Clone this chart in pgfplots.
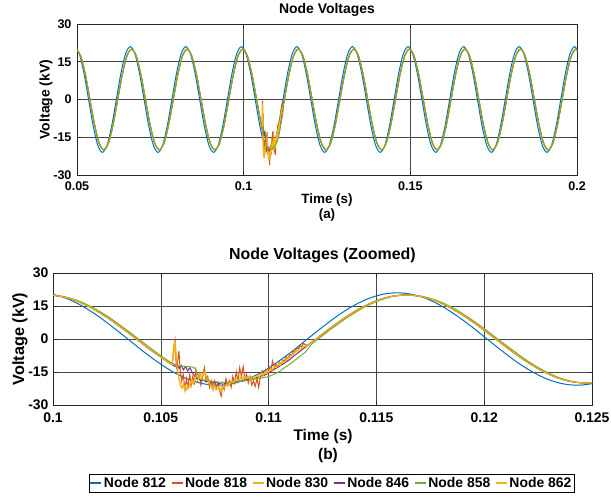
\documentclass[border=0pt]{standalone}
\usepackage{pgfplots}
\pgfplotsset{compat=1.18}
\usepackage{pgfplotstable}
\usepackage{fontspec}
\setmainfont{Liberation Sans}
\definecolor{c812}{RGB}{0,114,189}
\definecolor{c818}{RGB}{217,83,25}
\definecolor{c830}{RGB}{237,177,32}
\definecolor{c846}{RGB}{126,47,142}
\definecolor{c858}{RGB}{119,172,48}
\definecolor{c862}{RGB}{245,180,20}

% Node 812, coarse
\pgfplotstableread{
t v
0.0493 21
0.05069 18.19
0.05208 10.5
0.05347 0
0.05486 -10.5
0.05624 -18.19
0.05763 -21
0.05902 -18.19
0.06041 -10.5
0.0618 0
0.06319 10.5
0.06458 18.19
0.06597 21
0.06736 18.19
0.06874 10.5
0.07013 0
0.07152 -10.5
0.07291 -18.19
0.0743 -21
0.07569 -18.19
0.07708 -10.5
0.07847 0
0.07986 10.5
0.08124 18.19
0.08263 21
0.08402 18.19
0.08541 10.5
0.0868 0
0.08819 -10.5
0.08958 -18.19
0.09097 -21
0.09236 -18.19
0.09374 -10.5
0.09513 0
0.09652 10.5
0.09791 18.19
0.0993 21
0.10069 18.19
0.10208 10.5
0.10347 0
0.10486 -10.5
0.10624 -18.19
0.10763 -21
0.10902 -18.19
0.11041 -10.5
0.1118 0
0.11319 10.5
0.11458 18.19
0.11597 21
0.11736 18.19
0.11874 10.5
0.12013 0
0.12152 -10.5
0.12291 -18.19
0.1243 -21
0.12569 -18.19
0.12708 -10.5
0.12847 0
0.12986 10.5
0.13124 18.19
0.13263 21
0.13402 18.19
0.13541 10.5
0.1368 0
0.13819 -10.5
0.13958 -18.19
0.14097 -21
0.14236 -18.19
0.14374 -10.5
0.14513 0
0.14652 10.5
0.14791 18.19
0.1493 21
0.15069 18.19
0.15208 10.5
0.15347 0
0.15486 -10.5
0.15624 -18.19
0.15763 -21
0.15902 -18.19
0.16041 -10.5
0.1618 0
0.16319 10.5
0.16458 18.19
0.16597 21
0.16736 18.19
0.16874 10.5
0.17013 0
0.17152 -10.5
0.17291 -18.19
0.1743 -21
0.17569 -18.19
0.17708 -10.5
0.17847 0
0.17986 10.5
0.18124 18.19
0.18263 21
0.18402 18.19
0.18541 10.5
0.1868 0
0.18819 -10.5
0.18958 -18.19
0.19097 -21
0.19236 -18.19
0.19374 -10.5
0.19513 0
0.19652 10.5
0.19791 18.19
0.1993 21
0.20069 18.19
}\blueA

% Node 812, fine
\pgfplotstableread{
t v
0.0993 21
0.09999 20.28
0.10069 18.19
0.10138 14.85
0.10208 10.5
0.10277 5.44
0.10347 0
0.10416 -5.44
0.10486 -10.5
0.10555 -14.85
0.10624 -18.19
0.10694 -20.28
0.10763 -21
0.10833 -20.28
0.10902 -18.19
0.10972 -14.85
0.11041 -10.5
0.11111 -5.44
0.1118 0
0.1125 5.44
0.11319 10.5
0.11388 14.85
0.11458 18.19
0.11527 20.28
0.11597 21
0.11666 20.28
0.11736 18.19
0.11805 14.85
0.11874 10.5
0.11944 5.44
0.12013 0
0.12083 -5.44
0.12152 -10.5
0.12222 -14.85
0.12291 -18.19
0.12361 -20.28
0.1243 -21
0.125 -20.28
0.12569 -18.19
}\blueB

% other nodes, coarse, before fault
\pgfplotstableread{
t v
0.0497 20
0.05109 17.32
0.05248 10
0.05387 0
0.05526 -10
0.05664 -17.32
0.05803 -20
0.05942 -17.32
0.06081 -10
0.0622 0
0.06359 10
0.06498 17.32
0.06637 20
0.06776 17.32
0.06914 10
0.07053 0
0.07192 -10
0.07331 -17.32
0.0747 -20
0.07609 -17.32
0.07748 -10
0.07887 0
0.08026 10
0.08164 17.32
0.08303 20
0.08442 17.32
0.08581 10
0.0872 0
0.08859 -10
0.08998 -17.32
0.09137 -20
0.09276 -17.32
0.09414 -10
0.09553 0
0.09692 10
0.09831 17.32
0.0997 20
0.10109 17.32
0.10248 10
0.10387 0
0.10526 -10
0.10553 -11.73
}\othA

% other nodes, coarse, after fault
\pgfplotstableread{
t v
0.1118 -2.99
0.1122 0
0.11359 10
0.11498 17.32
0.11637 20
0.11776 17.32
0.11914 10
0.12053 0
0.12192 -10
0.12331 -17.32
0.1247 -20
0.12609 -17.32
0.12748 -10
0.12887 0
0.13026 10
0.13164 17.32
0.13303 20
0.13442 17.32
0.13581 10
0.1372 0
0.13859 -10
0.13998 -17.32
0.14137 -20
0.14276 -17.32
0.14414 -10
0.14553 0
0.14692 10
0.14831 17.32
0.1497 20
0.15109 17.32
0.15248 10
0.15387 0
0.15526 -10
0.15664 -17.32
0.15803 -20
0.15942 -17.32
0.16081 -10
0.1622 0
0.16359 10
0.16498 17.32
0.16637 20
0.16776 17.32
0.16914 10
0.17053 0
0.17192 -10
0.17331 -17.32
0.1747 -20
0.17609 -17.32
0.17748 -10
0.17887 0
0.18026 10
0.18164 17.32
0.18303 20
0.18442 17.32
0.18581 10
0.1872 0
0.18859 -10
0.18998 -17.32
0.19137 -20
0.19276 -17.32
0.19414 -10
0.19553 0
0.19692 10
0.19831 17.32
0.1997 20
0.20109 17.32
}\othC

% other nodes, fine
\pgfplotstableread{
t v
0.09901 19.32
0.0997 20
0.10039 19.32
0.10109 17.32
0.10178 14.14
0.10248 10
0.10317 5.18
0.10387 0
0.10456 -5.18
0.10526 -10
0.10553 -11.73
}\othB
\pgfplotstableread{
t v
0.1118 -2.99
0.1122 0
0.11289 5.18
0.11359 10
0.11428 14.14
0.11498 17.32
0.11567 19.32
0.11637 20
0.11706 19.32
0.11776 17.32
0.11845 14.14
0.11914 10
0.11984 5.18
0.12053 0
0.12123 -5.18
0.12192 -10
0.12262 -14.14
0.12331 -17.32
0.12401 -19.32
0.1247 -20
0.12539 -19.32
0.12609 -17.32
}\othD

% node 858, fine
\pgfplotstableread{
t v
0.09911 19.32
0.0998 20
0.10049 19.32
0.10119 17.32
0.10188 14.14
0.10258 10
0.10327 5.18
0.10397 0
0.10466 -5.18
0.10536 -10
0.10556 -11
}\grnB
\pgfplotstableread{
t v
0.112 -2.26
0.1123 0
0.11299 5.18
0.11369 10
0.11438 14.14
0.11508 17.32
0.11577 19.32
0.11647 20
0.11716 19.32
0.11786 17.32
0.11855 14.14
0.11924 10
0.11994 5.18
0.12063 0
0.12133 -5.18
0.12202 -10
0.12272 -14.14
0.12341 -17.32
0.12411 -19.32
0.1248 -20
0.12549 -19.32
0.12619 -17.32
}\grnD

% fault transients
\pgfplotstableread{
t v
0.10553 -11.7
0.10560 -4
0.10566 -0.5
0.10572 -13
0.10578 -10
0.10584 -5.5
0.10590 -14
0.10597 -19
0.10604 -16
0.10612 -23
0.10619 -18
0.10626 -22
0.10634 -16
0.10641 -21
0.10648 -17
0.10656 -20
0.10663 -14
0.10670 -19
0.10678 -16
0.10686 -21
0.10694 -17
0.10702 -13
0.10710 -19
0.10718 -17
0.10726 -22
0.10734 -19
0.10742 -23
0.10750 -19
0.10758 -22
0.10766 -20
0.10774 -24
0.10780 -26
0.10786 -21
0.10794 -23
0.10802 -18
0.10810 -21
0.10818 -19
0.10826 -22
0.10834 -17
0.10842 -20
0.10850 -15
0.10858 -19
0.10866 -13
0.10874 -17
0.10882 -12.5
0.10890 -18
0.10898 -16
0.10906 -20
0.10914 -17
0.10922 -21
0.10930 -19
0.10938 -21.5
0.10946 -18
0.10954 -22
0.10962 -17
0.10970 -14.5
0.10978 -16.5
0.10986 -14
0.10994 -15.5
0.11002 -13
0.11010 -15
0.11018 -10
0.11026 -13
0.11034 -11.5
0.11042 -12.5
0.11050 -10.5
0.11058 -11.5
0.11066 -9.5
0.11074 -10
0.11082 -8
0.11090 -9
0.11098 -7
0.11106 -7.5
0.11114 -5.5
0.11122 -6
0.11130 -4
0.11138 -4.5
0.11146 -3
0.11154 -3.5
0.11162 -2
0.11170 -2.5
0.11180 -2.99
}\fA
\pgfplotstableread{
t v
0.10553 -11.7
0.10560 -3
0.10565 -1.5
0.10572 -9
0.10580 -16
0.10590 -21
0.10600 -22.5
0.10610 -21
0.10620 -23
0.10630 -22
0.10640 -19
0.10650 -20.5
0.10660 -17
0.10670 -18.5
0.10680 -16
0.10690 -17.5
0.10700 -15
0.10710 -17
0.10720 -19.5
0.10730 -21
0.10740 -22.5
0.10750 -21.5
0.10760 -23
0.10770 -22
0.10780 -24
0.10790 -22
0.10800 -21.5
0.10810 -20
0.10820 -20.5
0.10830 -19
0.10840 -19.5
0.10850 -18
0.10860 -18.5
0.10870 -17.5
0.10880 -18.5
0.10890 -17
0.10900 -18
0.10910 -17.5
0.10920 -18.5
0.10930 -17
0.10940 -18
0.10950 -16.5
0.10960 -17
0.10970 -15.5
0.10980 -16
0.10990 -14.5
0.11000 -15
0.11010 -13.5
0.11020 -14
0.11030 -12.5
0.11040 -12.5
0.11050 -11
0.11060 -11.5
0.11070 -10
0.11080 -10
0.11090 -8.5
0.11100 -8.5
0.11110 -7
0.11120 -6.5
0.11130 -5
0.11140 -5
0.11150 -4
0.11160 -3.8
0.11170 -3
0.11180 -2.99
}\fB
\pgfplotstableread{
t v
0.10553 -11.7
0.10565 -12.5
0.10575 -11
0.10585 -13.5
0.10595 -12
0.10605 -14
0.10615 -12.5
0.10625 -14.5
0.10635 -13
0.10645 -15
0.10655 -16.5
0.10665 -18
0.10675 -17.5
0.10685 -19
0.10695 -18.5
0.10710 -19.5
0.10725 -19
0.10740 -20
0.10755 -19.5
0.10770 -20.5
0.10785 -19.8
0.10800 -20.2
0.10820 -19.5
0.10840 -19.8
0.10860 -19
0.10880 -19.2
0.10900 -18.5
0.10920 -18.2
0.10940 -17.8
0.10960 -17
0.10980 -16.5
0.11000 -15.5
0.11020 -14.2
0.11040 -13
0.11060 -11.8
0.11080 -10.5
0.11100 -9.2
0.11120 -7.5
0.11140 -6
0.11160 -4.5
0.11180 -2.99
}\fC
\pgfplotstableread{
t v
0.10556 -11
0.10570 -12
0.10590 -12.3
0.10610 -12.5
0.10630 -12.6
0.10650 -12.8
0.10660 -13.5
0.10670 -16
0.10680 -18
0.10690 -18.6
0.10710 -18.8
0.10730 -19.2
0.10750 -19.4
0.10770 -19.6
0.10790 -19.7
0.10810 -19.8
0.10830 -19.7
0.10850 -19.5
0.10870 -19.2
0.10890 -19
0.10910 -18.7
0.10930 -18.3
0.10950 -18
0.10970 -17.7
0.10990 -17.3
0.11010 -16.7
0.11030 -15.8
0.11050 -14.8
0.11070 -13.3
0.11090 -12
0.11110 -10.6
0.11130 -9
0.11150 -7.5
0.11170 -6
0.11185 -4.2
0.11200 -2.26
}\fD
\pgfplotstableread{
t v
0.10553 -11.7
0.10562 -6
0.10568 -2.5
0.10575 -12
0.10585 -18
0.10595 -22
0.10605 -20.5
0.10615 -23.5
0.10625 -21
0.10635 -22
0.10645 -18.5
0.10655 -19.5
0.10665 -16.5
0.10675 -18
0.10685 -15.5
0.10695 -17
0.10705 -14.8
0.10715 -18
0.10725 -20
0.10735 -22
0.10745 -21
0.10755 -23
0.10765 -22.5
0.10775 -23.5
0.10785 -21.5
0.10795 -22
0.10805 -20.5
0.10815 -21
0.10825 -19.5
0.10835 -20
0.10845 -18.5
0.10855 -19
0.10865 -18
0.10875 -18.5
0.10885 -17
0.10895 -18
0.10905 -17
0.10915 -18.5
0.10925 -17.5
0.10935 -18
0.10945 -16.5
0.10955 -17.5
0.10965 -16
0.10975 -16.5
0.10985 -15
0.10995 -15.5
0.11005 -14
0.11015 -14.5
0.11025 -12.5
0.11035 -13
0.11045 -11.5
0.11055 -12
0.11065 -10
0.11075 -10.5
0.11085 -9
0.11095 -8.5
0.11105 -7.5
0.11115 -7
0.11125 -5.5
0.11135 -5.5
0.11145 -4.5
0.11155 -4
0.11165 -3.5
0.11180 -2.99
}\fE

\pgfplotsset{
  common/.style={
    scale only axis, anchor=south west,
    ymin=-30, ymax=30,
    ytick={-30,-15,0,15,30}, yticklabels={-30,-15,0,15,30},
    grid=major, major grid style={black!72, line width=0.5bp},
    axis line style={black!85, line width=0.6bp},
    tick align=inside, major tick length=4bp,
    tick style={black!85, line width=0.5bp},
    clip=true,
  },
  ln/.style={line width=1bp},
}

\begin{document}
\begin{tikzpicture}
\useasboundingbox (0bp,0bp) rectangle (611bp,500bp);

\begin{axis}[common, at={(77bp,325bp)}, width=500bp, height=151bp,
  xmin=0.05, xmax=0.2,
  xtick={0.05,0.1,0.15,0.2}, xticklabels={0.05,0.1,0.15,0.2},
  ticklabel style={font=\bfseries\fontsize{12.6}{14}\selectfont},
  xticklabel style={yshift=-3bp},
  yticklabel style={xshift=-2bp},
  title={Node Voltages},
  title style={font=\bfseries\fontsize{14}{16}\selectfont, at={(0.5,1)}, anchor=south, yshift=-1.5bp},
  xlabel={Time (s)},
  xlabel style={font=\bfseries\fontsize{13.5}{16}\selectfont, at={(axis description cs:0.5,-0.165)}, anchor=center},
  ylabel={Voltage (kV)},
  ylabel style={font=\bfseries\fontsize{14}{16}\selectfont, at={(axis description cs:-0.062,0.5)}, anchor=center},
]
\addplot[c812, ln, smooth] table[x=t,y=v] {\blueA};
\addplot[c818, ln, smooth] table[x=t,y=v] {\othA};
\addplot[c818, ln] table[x=t,y=v] {\fA};
\addplot[c818, ln, smooth] table[x=t,y=v] {\othC};
\addplot[c830, ln, smooth] table[x=t,y=v] {\othA};
\addplot[c830, ln] table[x=t,y=v] {\fB};
\addplot[c830, ln, smooth] table[x=t,y=v] {\othC};
\addplot[c846, ln, smooth] table[x=t,y=v] {\othA};
\addplot[c846, ln] table[x=t,y=v] {\fC};
\addplot[c846, ln, smooth] table[x=t,y=v] {\othC};
\addplot[c862, ln, smooth] table[x=t,y=v] {\othA};
\addplot[c862, ln] table[x=t,y=v] {\fE};
\addplot[c862, ln, smooth] table[x=t,y=v] {\othC};
\addplot[c858, ln, smooth] table[x=t,y=v] {\othA};
\addplot[c858, ln] table[x=t,y=v] {\fD};
\addplot[c858, ln, smooth] table[x=t,y=v] {\othC};
\end{axis}
\node[font=\bfseries\fontsize{13.5}{16}\selectfont] at (327bp,285bp) {(a)};

\begin{axis}[common, at={(53bp,95bp)}, width=539bp, height=132bp,
  xmin=0.1, xmax=0.125,
  xtick={0.1,0.105,0.11,0.115,0.12,0.125}, xticklabels={0.1,0.105,0.11,0.115,0.12,0.125},
  ticklabel style={font=\bfseries\fontsize{14}{16}\selectfont},
  xticklabel style={yshift=-4bp},
  yticklabel style={xshift=-1bp},
  title={Node Voltages (Zoomed)},
  title style={font=\bfseries\fontsize{16}{18}\selectfont, at={(0.5,1)}, anchor=south, yshift=1bp},
  xlabel={Time (s)},
  xlabel style={font=\bfseries\fontsize{15.5}{18}\selectfont, at={(axis description cs:0.501,-0.24)}, anchor=center},
  ylabel={Voltage (kV)},
  ylabel style={font=\bfseries\fontsize{16.3}{18}\selectfont, at={(axis description cs:-0.0612,0.5)}, anchor=center},
  legend columns=6,
  legend style={at={(0.517,-0.523)}, anchor=north, draw=black,
    font=\bfseries\fontsize{14}{16}\selectfont, inner xsep=1bp, inner ysep=1bp,
    /tikz/every even column/.append style={column sep=3bp}},
  legend cell align=left,
]
\addlegendimage{legend image code/.code={\draw[c812, line width=1.1bp] (0bp,0bp) -- (11bp,0bp);}}\addlegendentry{Node 812}
\addlegendimage{legend image code/.code={\draw[c818, line width=1.1bp] (0bp,0bp) -- (11bp,0bp);}}\addlegendentry{Node 818}
\addlegendimage{legend image code/.code={\draw[c830, line width=1.1bp] (0bp,0bp) -- (11bp,0bp);}}\addlegendentry{Node 830}
\addlegendimage{legend image code/.code={\draw[c846, line width=1.1bp] (0bp,0bp) -- (11bp,0bp);}}\addlegendentry{Node 846}
\addlegendimage{legend image code/.code={\draw[c858, line width=1.1bp] (0bp,0bp) -- (11bp,0bp);}}\addlegendentry{Node 858}
\addlegendimage{legend image code/.code={\draw[c862, line width=1.1bp] (0bp,0bp) -- (11bp,0bp);}}\addlegendentry{Node 862}
\addplot[c812, ln, smooth, forget plot] table[x=t,y=v] {\blueB};
\addplot[c818, ln, smooth, forget plot] table[x=t,y=v] {\othB};
\addplot[c818, ln, forget plot] table[x=t,y=v] {\fA};
\addplot[c818, ln, smooth, forget plot] table[x=t,y=v] {\othD};
\addplot[c830, ln, smooth, forget plot] table[x=t,y=v] {\othB};
\addplot[c830, ln, forget plot] table[x=t,y=v] {\fB};
\addplot[c830, ln, smooth, forget plot] table[x=t,y=v] {\othD};
\addplot[c846, ln, smooth, forget plot] table[x=t,y=v] {\othB};
\addplot[c846, ln, forget plot] table[x=t,y=v] {\fC};
\addplot[c846, ln, smooth, forget plot] table[x=t,y=v] {\othD};
\addplot[c858, ln, smooth, forget plot] table[x=t,y=v] {\grnB};
\addplot[c858, ln, forget plot] table[x=t,y=v] {\fD};
\addplot[c858, ln, smooth, forget plot] table[x=t,y=v] {\grnD};
\addplot[c862, ln, smooth, forget plot] table[x=t,y=v] {\othB};
\addplot[c862, ln, forget plot] table[x=t,y=v] {\fE};
\addplot[c862, ln, smooth, forget plot] table[x=t,y=v] {\othD};
\end{axis}
\node[font=\bfseries\fontsize{15.5}{18}\selectfont] at (328bp,44bp) {(b)};
\end{tikzpicture}
\end{document}
